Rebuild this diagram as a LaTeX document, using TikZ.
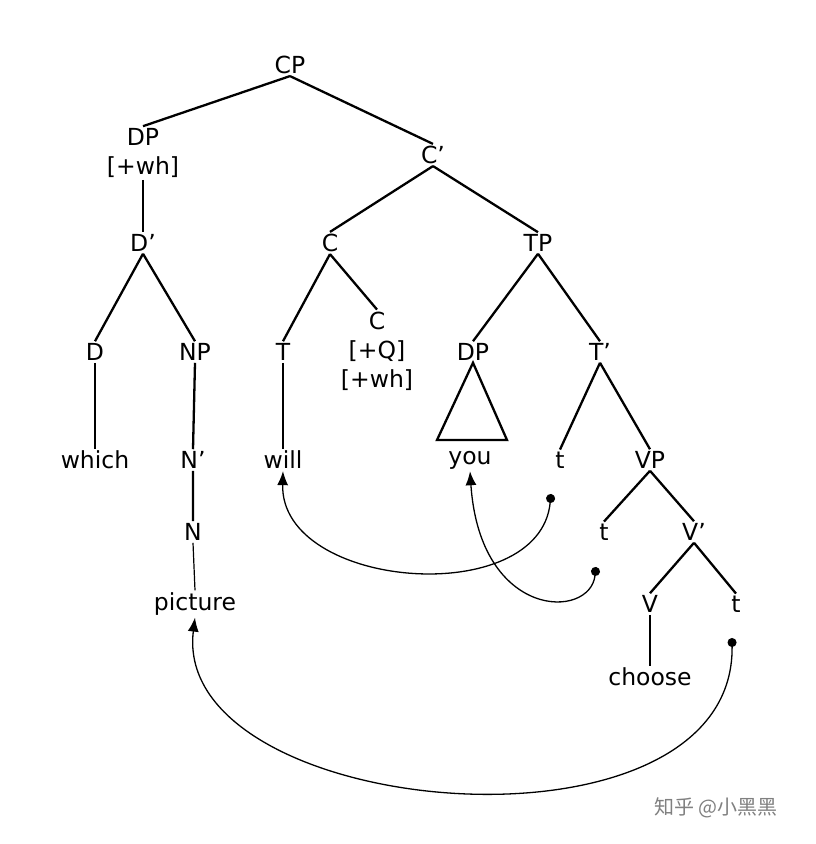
\documentclass[tikz,border=0pt]{standalone}
\usepackage{fontspec}
\setmainfont{DejaVu Sans}
\newfontfamily\cjk{Noto Sans CJK SC}
\usetikzlibrary{arrows.meta}
\newcommand{\pr}{{\char"27}}
\begin{document}
\begin{tikzpicture}[x=1pt,y=-1pt,
  lab/.style={inner sep=2pt,font=\fontsize{23.5}{29}\selectfont,align=center},
  br/.style={line width=2.3pt},
  thin/.style={line width=1.2pt},
  mv/.style={line width=1.3pt,{Circle[length=9pt]}-{Latex[length=14pt,width=11pt]}}]
\useasboundingbox[fill=white] (0,0) rectangle (815,844);
\node[lab] (CP) at (290,65) {CP};
\node[lab] (DP) at (143,153) {DP\\{[+wh]}};
\node[lab] (Cb) at (433,155) {C\pr};
\node[lab] (Db) at (143,243) {D\pr};
\node[lab] (C) at (330,243) {C};
\node[lab] (TP) at (538,243) {TP};
\node[lab] (D) at (95,352) {D};
\node[lab] (NP) at (195,352) {NP};
\node[lab] (T) at (283,352) {T};
\node[lab] (C2) at (377,351) {C\\{[+Q]}\\{[+wh]}};
\node[lab] (DP2) at (473,352) {DP};
\node[lab] (Tb) at (600,352) {T\pr};
\node[lab] (which) at (95,460) {which};
\node[lab] (Nb) at (193,460) {N\pr};
\node[lab] (will) at (283,460) {will};
\node[lab] (you) at (470,460) {you};
\node[lab] (t1) at (560,460) {t};
\node[lab] (VP) at (650,460) {VP};
\node[lab] (t2) at (604,532) {t};
\node[lab] (Vb) at (694,532) {V\pr};
\node[lab] (N) at (193,532) {N};
\node[lab] (pic) at (195,604) {picture};
\node[lab] (V) at (650,604) {V};
\node[lab] (t3) at (736,604) {t};
\node[lab] (choose) at (650,677) {choose};
\node[text=gray,font=\cjk\fontsize{20}{24}\selectfont] (wm) at (716,808) {知乎 @小黑黑};
\draw[br] (CP.south) -- (DP.north) (CP.south) -- (Cb.north);
\draw[br] (DP.south) -- (Db.north);
\draw[br] (Cb.south) -- (C.north) (Cb.south) -- (TP.north);
\draw[br] (Db.south) -- (D.north) (Db.south) -- (NP.north);
\draw[br] (C.south) -- (T.north) (C.south) -- (C2.north);
\draw[br] (TP.south) -- (DP2.north) (TP.south) -- (Tb.north);
\draw[thin] (D.south) -- (which.north);
\draw[br] (NP.south) -- (Nb.north) (Nb.south) -- (N.north);
\draw[thin] (N.south) -- (pic.north);
\draw[br] (T.south) -- (will.north);
\draw[br,line join=miter] (DP2.south) -- (437,440) -- (507,440) -- cycle;
\draw[br] (Tb.south) -- (t1.north) (Tb.south) -- (VP.north);
\draw[br] (VP.south) -- (t2.north) (VP.south) -- (Vb.north);
\draw[br] (Vb.south) -- (V.north) (Vb.south) -- (t3.north);
\draw[thin] (V.south) -- (choose.north);
\coordinate (d1) at (551,494);
\coordinate (d2) at (596,567);
\coordinate (d3) at (732,638);
\draw[mv] (d1) .. controls (540,610) and (280,590) .. (will.south);
\draw[mv] (d2) .. controls (590,620) and (480,620) .. (you.south);
\draw[mv] (d3) .. controls (735,870) and (170,820) .. (pic.south);
\end{tikzpicture}
\end{document}
